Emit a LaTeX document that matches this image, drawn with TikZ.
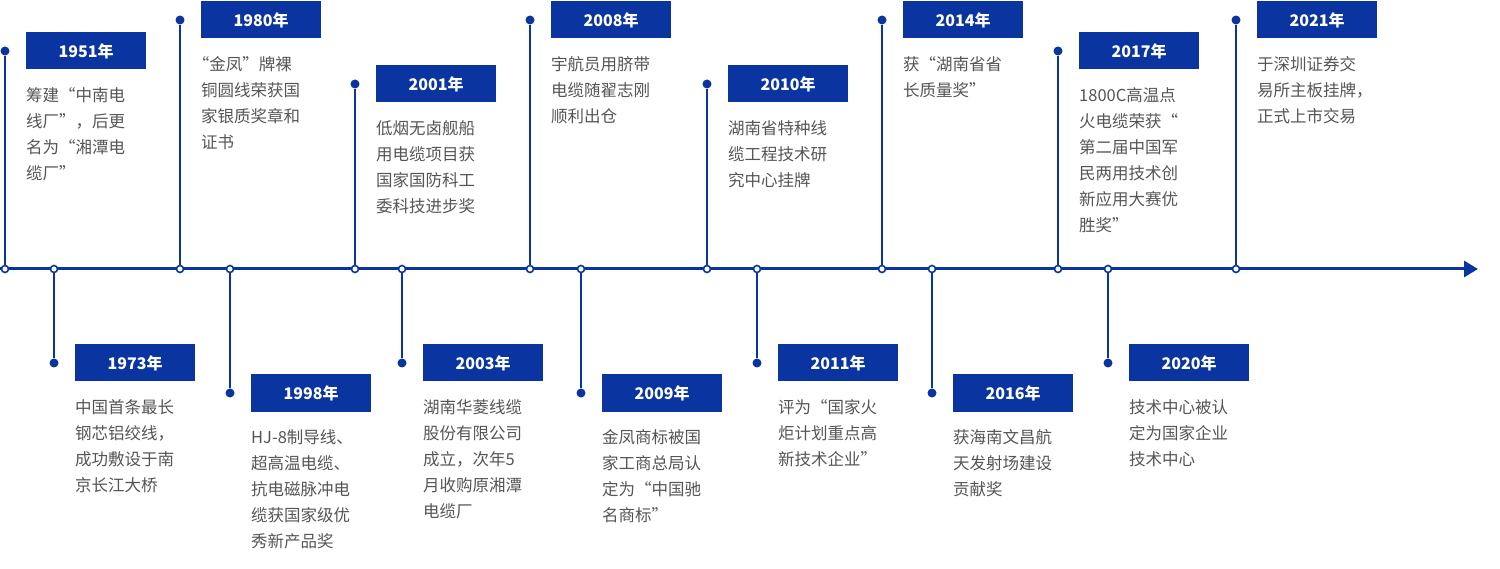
\documentclass[tikz,border=0pt]{standalone}
\usepackage{fontspec}
\setmainfont{Noto Sans CJK SC}
\usetikzlibrary{arrows.meta}
\definecolor{tblue}{HTML}{0A35A0}
\definecolor{tgray}{HTML}{555555}
\begin{document}
\begin{tikzpicture}[x=1pt,y=-1pt,
  yearbox/.style={fill=tblue,text=white,minimum width=120pt,minimum height=37pt,inner sep=0pt,anchor=west,font=\fontsize{16}{16}\selectfont\bfseries},
  desc/.style={text=tgray,anchor=north west,inner sep=0pt,align=left,font=\fontsize{16.5}{26}\selectfont},
  stem/.style={draw=tblue,line width=2pt},
  enddot/.style={circle,fill=tblue,inner sep=0pt,minimum size=9pt},
  axdot/.style={circle,draw=tblue,fill=white,line width=1.6pt,inner sep=0pt,minimum size=7pt}]
\useasboundingbox (0,0) rectangle (1500,569);
\coordinate (as) at (0,269);
\coordinate (ae) at (1478,269);
\draw[draw=tblue,line width=3pt,-{Triangle[length=14pt,width=16pt]}] (as) -- (ae);
\foreach \i/\x/\y/\yr/\txt in {
 a/5/51/1951/{筹建“中南电\\线厂”，后更\\名为“湘潭电\\缆厂”},
 b/180/20/1980/{\hspace*{-0.5em}“金凤”牌裸\\铜圆线荣获国\\家银质奖章和\\证书},
 c/355/84/2001/{低烟无卤舰船\\用电缆项目获\\国家国防科工\\委科技进步奖},
 d/530/20/2008/{宇航员用脐带\\电缆随翟志刚\\顺利出仓},
 e/707/84/2010/{湖南省特种线\\缆工程技术研\\究中心挂牌},
 f/882/20/2014/{获“湖南省省\\长质量奖”},
 g/1058/51/2017/{1800C高温点\\火电缆荣获“\\第二届中国军\\民两用技术创\\新应用大赛优\\胜奖”},
 h/1236/20/2021/{于深圳证券交\\易所主板挂牌，\\正式上市交易},
 i/54/363/1973/{中国首条最长\\钢芯铝绞线，\\成功敷设于南\\京长江大桥},
 j/230/393/1998/{HJ-8制导线、\\超高温电缆、\\抗电磁脉冲电\\缆获国家级优\\秀新产品奖},
 k/402/363/2003/{湖南华菱线缆\\股份有限公司\\成立，次年5\\月收购原湘潭\\电缆厂},
 l/581/393/2009/{金凤商标被国\\家工商总局认\\定为“中国驰\\名商标”},
 m/757/363/2011/{评为“国家火\\炬计划重点高\\新技术企业”},
 n/932/393/2016/{获海南文昌航\\天发射场建设\\贡献奖},
 o/1108/363/2020/{技术中心被认\\定为国家企业\\技术中心}}{
  \node[axdot] (ax\i) at (\x,269) {};
  \node[enddot] (dt\i) at (\x,\y) {};
  \draw[stem] (dt\i) -- (ax\i);
  \node[yearbox] (yb\i) at (\x+21,\y) {{\yr}年};
  \node[desc] (tx\i) at (\x+21,\y+36) {\txt};
}
\end{tikzpicture}
\end{document}
